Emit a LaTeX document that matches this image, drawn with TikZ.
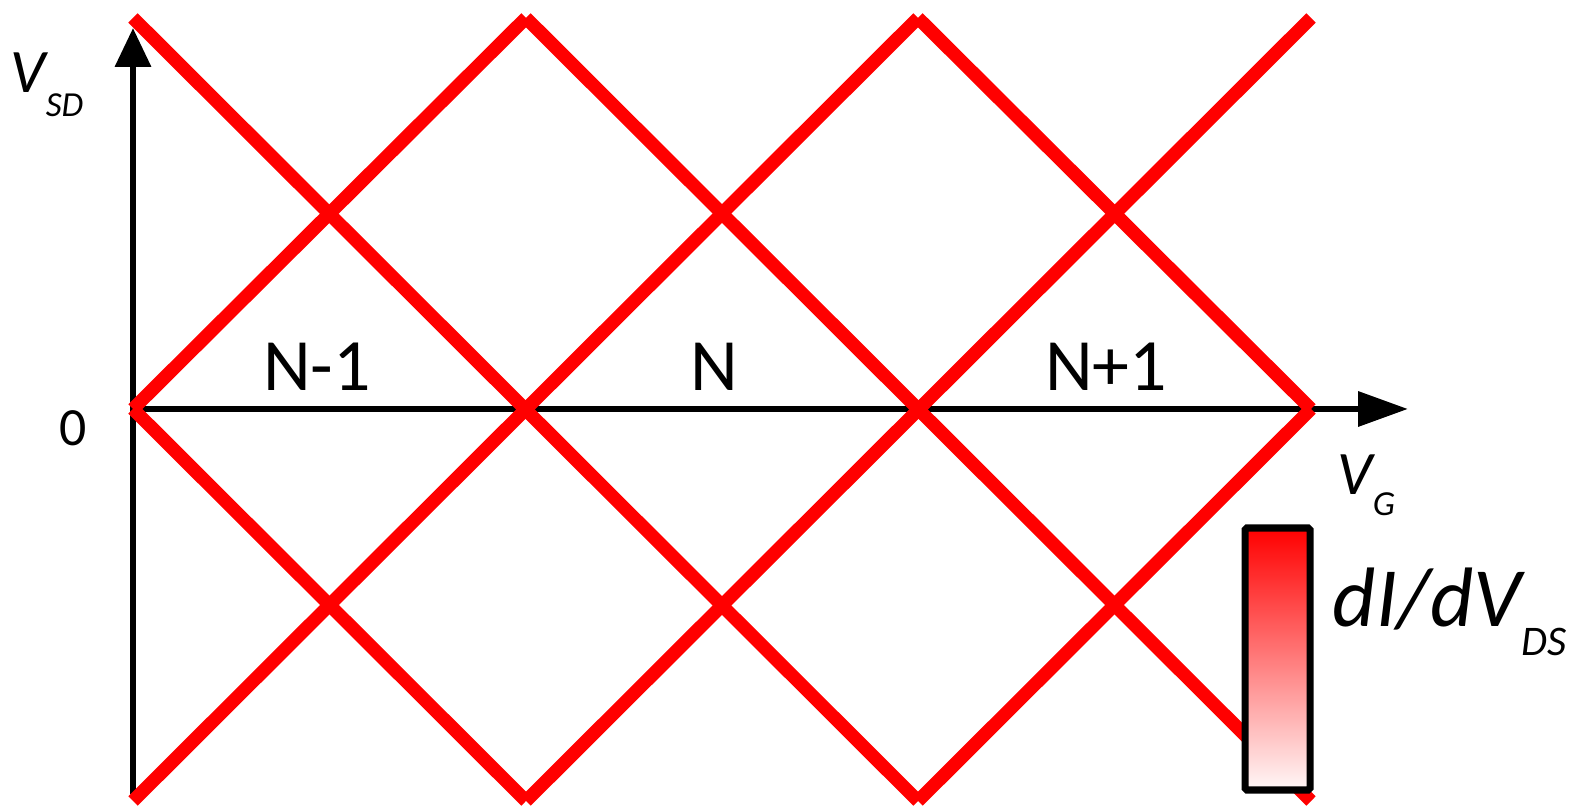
\documentclass[tikz,border=0pt]{standalone}
\usepackage{fontspec}
\setmainfont{Carlito}
\usetikzlibrary{arrows.meta}

\begin{document}
\begin{tikzpicture}[
    redline/.style={draw=red, line width=3.8pt},
    axis/.style={draw=black, line width=1.9pt},
    region/.style={inner sep=0pt, anchor=base, font=\fontsize{21}{25}\selectfont}
]
\useasboundingbox (0,0) rectangle (15.79,8.09);

% axes
\coordinate (origin) at (1.33,4.00);
\coordinate (ytop) at (1.33,7.81);
\coordinate (ybot) at (1.33,0.15);
\coordinate (xend) at (14.08,4.00);
\draw[axis, -{Triangle[length=0.39cm,width=0.35cm]}] (ybot) -- (ytop);
\draw[axis, -{Triangle[length=0.50cm,width=0.34cm]}] (origin) -- (xend);

% diamond corners
\coordinate (t0) at (1.33,7.91);
\coordinate (t1) at (5.26,7.91);
\coordinate (t2) at (9.18,7.91);
\coordinate (t3) at (13.11,7.91);
\coordinate (m0) at (1.33,4.00);
\coordinate (m3) at (13.11,4.00);
\coordinate (b0) at (1.33,0.08);
\coordinate (b1) at (5.26,0.08);
\coordinate (b2) at (9.18,0.08);
\coordinate (b3) at (13.11,0.08);

\draw[redline] (t0) -- (b2);
\draw[redline] (t1) -- (b3);
\draw[redline] (t2) -- (m3);
\draw[redline] (m0) -- (b1);
\draw[redline] (b0) -- (t2);
\draw[redline] (b1) -- (t3);
\draw[redline] (b2) -- (m3);
\draw[redline] (m0) -- (t1);

% colour bar
\draw[line width=2pt, rounded corners=0.5pt, top color=red, bottom color=red!3]
    (12.45,0.19) rectangle (13.10,2.81);

% labels
\node[inner sep=0pt, anchor=base west] (vsd) at (0.10,7.16)
    {\fontsize{17.6}{20}\selectfont\itshape V\raisebox{-6.8pt}{\fontsize{10}{12}\selectfont SD}};
\node[inner sep=0pt, anchor=base] (zero) at (0.735,3.63) {\fontsize{15.3}{18}\selectfont 0};
\node[region] (nminus) at (3.17,4.18) {N-1};
\node[region] (nzero) at (7.14,4.18) {N};
\node[region] (nplus) at (11.06,4.18) {N+1};
\node[inner sep=0pt, anchor=base west] (vg) at (13.37,3.14)
    {\fontsize{17.6}{20}\selectfont\itshape V\raisebox{-5.7pt}{\fontsize{10}{12}\selectfont G}};
\node[inner sep=0pt, anchor=base west] (didv) at (13.32,1.82)
    {\fontsize{24}{28}\selectfont\itshape dI/dV\raisebox{-8pt}{\fontsize{12}{14}\selectfont DS}};
\end{tikzpicture}
\end{document}
